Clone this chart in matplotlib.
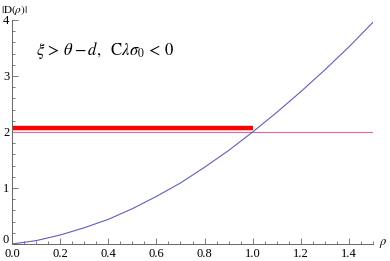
import numpy as np
import matplotlib.pyplot as plt
from matplotlib.ticker import MultipleLocator, FuncFormatter

# values
rho = [0.0, 0.1, 0.2, 0.3, 0.4, 0.5, 0.6, 0.7, 0.8, 0.9, 1.0, 1.1, 1.2, 1.3, 1.4, 1.5]
D = [0.0, 0.06, 0.16, 0.29, 0.44, 0.63, 0.85, 1.09, 1.37, 1.67, 2.0, 2.35, 2.72, 3.11, 3.52, 3.96]
level = 2.0
band_level = 2.07
band_end = 1.0

plt.rcParams['mathtext.fontset'] = 'stix'
plt.rcParams['font.family'] = 'Liberation Serif'

fig = plt.figure(figsize=(3.9, 2.61), dpi=100)
ax = fig.add_axes([12 / 390, 17 / 261, 361 / 390, 224 / 261])

ax.plot([0, 1.5], [level, level], color='#b87c9c', lw=0.8)
ax.plot([0, band_end], [band_level, band_level], color='#ff0000', lw=3.2, solid_capstyle='butt')
ax.plot(rho, D, color='#6060b8', lw=0.8)

ax.set_xlim(0, 1.5)
ax.set_ylim(0, 4)
ax.spines['top'].set_visible(False)
ax.spines['right'].set_visible(False)
for s in ['left', 'bottom']:
    ax.spines[s].set_color('#666666')
    ax.spines[s].set_linewidth(0.7)

ax.xaxis.set_major_locator(MultipleLocator(0.2))
ax.xaxis.set_minor_locator(MultipleLocator(0.05))
ax.yaxis.set_major_locator(MultipleLocator(1))
ax.yaxis.set_minor_locator(MultipleLocator(0.2))
ax.tick_params(which='both', direction='in', color='#666666', width=0.6, labelsize=9)
ax.tick_params(which='major', length=4)
ax.tick_params(which='minor', length=2)
ax.tick_params(axis='x', pad=3)
ax.tick_params(axis='y', pad=2)
ax.xaxis.set_major_formatter(FuncFormatter(lambda v, p: f'{v:.1f}'))
# the y "0" is placed by hand, a bit higher, so it clears "0.0"
ax.yaxis.set_major_formatter(FuncFormatter(lambda v, p: '' if v == 0 else f'{v:.0f}'))
fig.text(6 / 390, 1 - 240 / 261, '0', fontsize=9, ha='center', va='center')

fig.text(383 / 390, 1 - 243 / 261, r'$\rho$', fontsize=9, ha='center', va='center')
fig.text(1 / 390, 1 - 10 / 261, r'$|\mathrm{D}(\rho)|$', fontsize=8, ha='left', va='center')
ax.text(0.1, 3.38, r'$\xi\, >\, \theta - d,\ \ \mathrm{C}\lambda\sigma_0\, <\, 0$', fontsize=12)

fig.savefig('out.png', dpi=100)
